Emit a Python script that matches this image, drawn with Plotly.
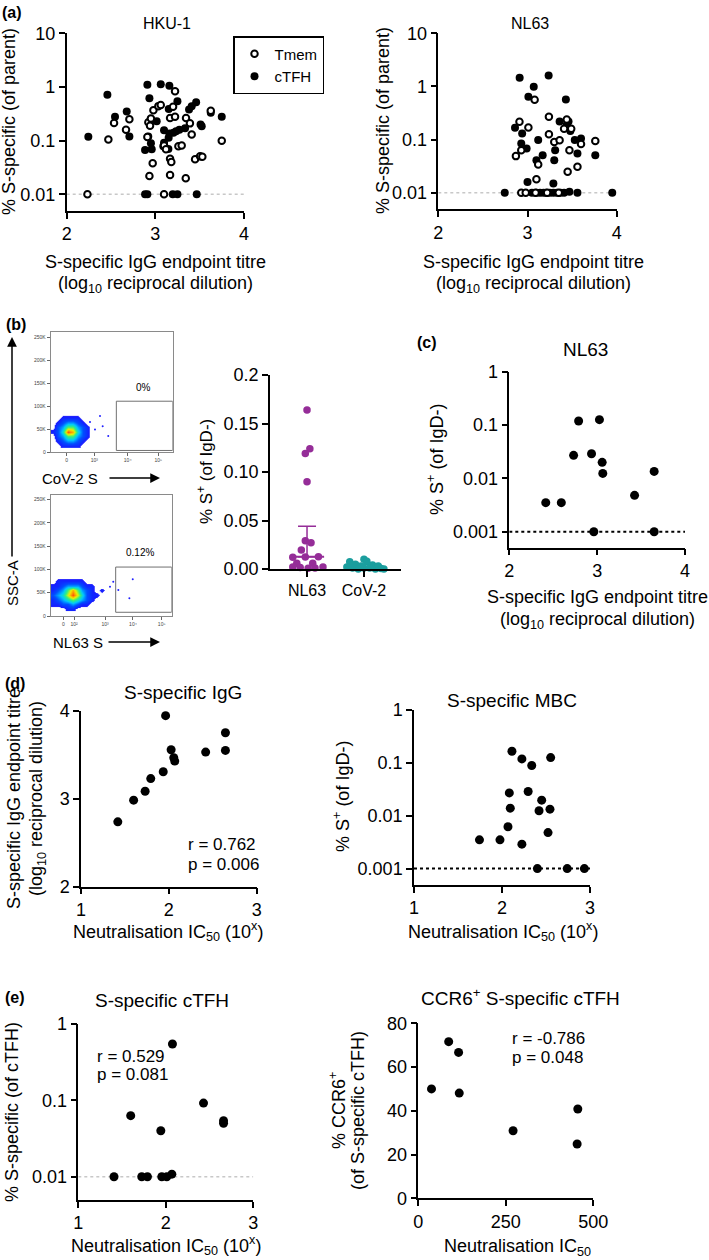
import plotly.graph_objects as go

W, H = 709, 1260
FONT = "Liberation Sans, Arial, sans-serif"
PURPLE = "#952D98"
TEAL = "#1B9E9E"

# ---------------- data ----------------
# (a) HKU-1
hku_cTFH_x = [2.244, 2.459, 2.545, 2.677, 2.707, 2.910, 2.933, 2.92, 2.884, 2.959, 2.948, 3.015, 3.061,
              3.158, 3.249, 3.41, 3.46, 3.151, 3.098, 3.158, 3.204, 3.234, 3.271, 3.335, 3.523, 3.098,
              3.147, 3.625, 3.749, 2.884, 2.910, 3.196, 3.249, 3.467, 2.95, 3.09, 3.15, 3.38, 3.51]
hku_cTFH_y = [0.118, 0.72, 0.28, 0.35, 0.12, 1.10, 0.62, 0.12, 0.067, 0.069, 0.22, 0.23, 1.13,
              1.05, 0.54, 0.44, 0.52, 0.39, 0.156, 0.136, 0.14, 0.15, 0.16, 0.17, 0.185, 0.091,
              0.070, 0.33, 0.28, 0.01, 0.01, 0.01, 0.01, 0.01, 0.09, 0.079, 0.113, 0.38, 0.2]
hku_Tmem_x = [2.234, 2.47, 2.534, 2.707, 2.669, 2.978, 3.034, 3.061, 2.921, 2.91, 2.94, 2.97, 2.933,
              3.166, 3.343, 3.166, 3.18, 3.098, 3.26, 3.297, 3.166, 3.222, 3.346, 3.39, 3.41, 3.448,
              3.505, 3.53, 3.625, 3.749, 3.098, 3.222, 3.2, 3.12, 2.95]
hku_Tmem_y = [0.01, 0.105, 0.214, 0.25, 0.16, 0.37, 0.44, 0.46, 0.22, 0.117, 0.19, 0.038, 0.022,
              0.023, 0.020, 0.046, 0.04, 0.081, 0.079, 0.081, 0.265, 0.28, 0.265, 0.21, 0.13, 0.045,
              0.051, 0.05, 0.36, 0.10, 0.01, 0.83, 0.43, 0.069, 0.26]

# (a) NL63
nl_cTFH_x = [2.912, 3.237, 3.07, 3.01, 3.43, 2.86, 2.94, 2.93, 2.99, 3.12, 3.36, 3.46, 3.44, 3.48,
             3.53, 3.60, 3.56, 3.17, 3.10, 3.30, 3.31, 3.76, 3.0, 3.29, 2.745, 3.95, 3.56, 3.05,
             3.10, 3.14, 3.18, 3.21, 3.25, 3.29, 3.33, 3.37, 3.41, 3.47]
nl_cTFH_y = [1.46, 1.6, 0.99, 0.64, 0.57, 0.167, 0.13, 0.085, 0.068, 0.098, 0.22, 0.22, 0.19, 0.145,
             0.098, 0.105, 0.055, 0.051, 0.041, 0.041, 0.063, 0.051, 0.016, 0.015, 0.01, 0.01, 0.01, 0.01,
             0.01, 0.01, 0.01, 0.01, 0.01, 0.01, 0.01, 0.01, 0.01, 0.0105]
nl_Tmem_x = [2.91, 3.01, 3.08, 2.87, 2.93, 3.24, 3.24, 3.30, 3.36, 3.41, 3.44, 3.47, 3.49, 3.60,
             3.76, 3.56, 3.45, 3.12, 3.10, 2.93, 2.98, 3.09, 3.22, 3.35]
nl_Tmem_y = [0.216, 0.17, 0.56, 0.049, 0.063, 0.27, 0.126, 0.09, 0.097, 0.16, 0.24, 0.063, 0.16, 0.083,
             0.094, 0.031, 0.025, 0.034, 0.018, 0.01, 0.01, 0.01, 0.01, 0.01]

# (b) flow density (estimated event density on a coarse grid)
flow_top_u = [2, 6, 10, 14, 18, 22, 26, 30, 34, 38, 42, 46]
flow_top_yk = [15000, 25000, 35000, 45000, 55000, 65000, 75000, 85000]
flow_top_z = [
    [0, 0, 1, 1, 1, 1, 0, 0, 0, 0, 0, 0],
    [0, 1, 2, 3, 3, 2, 1, 0, 0, 0, 0, 0],
    [0, 2, 3, 5, 5, 3, 2, 1, 0, 0, 0, 0],
    [1, 2, 4, 8, 7, 4, 2, 1, 0, 0, 0, 0],
    [0, 2, 3, 5, 5, 3, 2, 1, 0, 0, 0, 0],
    [0, 1, 2, 3, 3, 2, 1, 0, 0, 0, 0, 0],
    [0, 0, 1, 1, 1, 1, 0, 0, 0, 0, 0, 0],
    [0, 0, 0, 0, 0, 0, 0, 0, 0, 0, 0, 0],
]
flow_top_dots_u = [40.4, 42.6, 47.2, 32.2, 36.3]
flow_top_dots_y = [78600, 56800, 35600, 66000, 49600]

flow_bot_u = [2, 6, 10, 14, 18, 22, 26, 30, 34, 38, 42, 46, 50]
flow_bot_yk = [15000, 25000, 35000, 45000, 55000, 65000, 75000, 85000]
flow_bot_z = [
    [0, 0, 0, 1, 1, 0, 0, 0, 0, 0, 0, 0, 0],
    [1, 1, 2, 2, 3, 2, 1, 1, 0, 0, 0, 0, 0],
    [1, 2, 3, 4, 5, 4, 3, 2, 1, 0, 0, 0, 0],
    [2, 3, 4, 6, 8, 6, 4, 2, 1, 1, 0, 0, 0],
    [1, 2, 3, 5, 7, 5, 3, 2, 1, 0, 1, 0, 0],
    [1, 1, 2, 3, 3, 3, 2, 1, 1, 0, 0, 0, 0],
    [0, 1, 1, 1, 1, 1, 1, 0, 0, 0, 0, 0, 0],
    [0, 0, 0, 0, 0, 0, 0, 0, 0, 0, 0, 0, 0],
]
flow_bot_dots_u = [49.0, 67.8, 65.0, 55.9, 51.7]
flow_bot_dots_y = [62900, 78800, 38000, 55800, 73600]

gate_top_x = [53.8, 100]
gate_top_y = [4000, 111000]
gate_bot_x = [53.7, 100]
gate_bot_y = [8000, 105000]

# (b) strip plot
strip_categories = ["NL63", "CoV-2"]
strip_nl63_x = [0.0, 0.05, -0.03, 0.0, -0.03, 0.07, -0.1, -0.25, -0.03, 0.2, -0.18, 0.1, -0.25, -0.12, 0.02, 0.14, 0.28]
strip_nl63_y = [0.164, 0.124, 0.119, 0.090, 0.029, 0.027, 0.0196, 0.012, 0.0124, 0.0125, 0.0058, 0.006,
                0.002, 0.0015, 0.0007, 0.001, 0.002]
strip_cov_x = [0.75, 1.0, 1.05, 0.85, 1.15, 0.95, 1.25, 0.7, 1.1, 0.8, 1.3, 0.9, 1.2, 1.25, 1.0, 1.35]
strip_cov_y = [0.0075, 0.010, 0.008, 0.005, 0.004, 0.003, 0.002, 0.002, 0.001, 0.001, 0.0005, 0.0, 0.0,
               0.003, 0.001, 0.0]
strip_center = [0.0127, 0.002]
strip_upper = [0.044, 0.005]

# (c)
c_x = [2.415, 2.592, 2.732, 2.789, 3.026, 2.936, 3.057, 3.064, 3.649, 3.426, 2.962, 3.649]
c_y = [0.0035, 0.0035, 0.027, 0.119, 0.126, 0.029, 0.020, 0.0124, 0.0135, 0.0048, 0.001, 0.001]

# (d)
dl_x = [1.419, 1.599, 1.730, 1.794, 1.936, 1.963, 2.026, 2.056, 2.067, 2.419, 2.644, 2.644]
dl_y = [2.738, 2.985, 3.087, 3.231, 3.308, 3.947, 3.559, 3.468, 3.430, 3.532, 3.753, 3.551]
dr_x = [2.113, 2.226, 2.338, 2.553, 2.083, 2.297, 2.451, 2.094, 2.421, 2.545, 2.068, 1.744, 1.977,
        2.226, 2.523, 2.402, 2.741, 2.936]
dr_y = [0.166, 0.119, 0.089, 0.126, 0.027, 0.0287, 0.0197, 0.0139, 0.0124, 0.0133, 0.0062, 0.0035,
        0.0035, 0.0029, 0.0048, 0.001, 0.001, 0.001]

# (e)
el_x = [2.076, 1.599, 1.943, 2.431, 2.660, 2.660, 1.408, 1.725, 1.79, 1.954, 2.011, 2.069]
el_y = [0.547, 0.063, 0.040, 0.092, 0.054, 0.050, 0.01, 0.01, 0.01, 0.01, 0.01, 0.0108]
er_x = [37.7, 86.8, 115.1, 117, 270.8, 455.7, 453.8]
er_y = [50, 71.6, 66.7, 48.1, 30.9, 40.8, 24.8]

# ---------------- helpers ----------------
def dx(a, b):
    return [a / W, b / W]


def dy(top, bottom):
    return [1 - bottom / H, 1 - top / H]


def px(x):
    return x / W


def py(y):
    return 1 - y / H


fig = go.Figure()
layout = {}

TICK = 18
base = dict(showline=True, linecolor="black", linewidth=1.5, ticks="outside", ticklen=6,
            tickwidth=1.5, tickcolor="black", showgrid=False, zeroline=False, automargin=False,
            tickfont=dict(family=FONT, size=TICK, color="black"), fixedrange=True)


def axes(n, xd, yd, xcfg, ycfg):
    xa = dict(base)
    ya = dict(base)
    xa.update(domain=xd, anchor="y" if n == 1 else f"y{n}")
    ya.update(domain=yd, anchor="x" if n == 1 else f"x{n}")
    xa.update(xcfg)
    ya.update(ycfg)
    layout["xaxis" if n == 1 else f"xaxis{n}"] = xa
    layout["yaxis" if n == 1 else f"yaxis{n}"] = ya


def ref(n):
    return ("x", "y") if n == 1 else (f"x{n}", f"y{n}")


def dots(n, x, y, size=9, color="black", open_=False, name=None, legend=False, rank=None):
    xr, yr = ref(n)
    if open_:
        marker = dict(size=size - 2, color="white", line=dict(color=color, width=2))
    else:
        marker = dict(size=size, color=color, line=dict(width=0))
    kw = {}
    if rank is not None:
        kw["legendrank"] = rank
    fig.add_trace(go.Scatter(x=x, y=y, mode="markers", marker=marker, xaxis=xr, yaxis=yr,
                             cliponaxis=False, showlegend=legend, name=name, hoverinfo="skip", **kw))


def hline(n, xs, yv, color, width, dash="dot"):
    xr, yr = ref(n)
    fig.add_trace(go.Scatter(x=xs, y=[yv, yv], mode="lines", line=dict(color=color, width=width, dash=dash),
                             xaxis=xr, yaxis=yr, showlegend=False, hoverinfo="skip", cliponaxis=False))


annots = []


def text(x, y, s, size=18, angle=0, xanchor="center", bold=False, color="black"):
    if bold:
        s = f"<b>{s}</b>"
    annots.append(dict(x=px(x), y=py(y), xref="paper", yref="paper", text=s, showarrow=False,
                       textangle=angle, xanchor=xanchor, yanchor="middle", align="left",
                       font=dict(family=FONT, size=size, color=color)))


def arrow(x_tip, y_tip, ax, ay):
    annots.append(dict(x=px(x_tip), y=py(y_tip), xref="paper", yref="paper", text="", showarrow=True,
                       ax=ax, ay=ay, arrowhead=2, arrowsize=1.3, arrowwidth=1.5, arrowcolor="black"))


log_ticks_a = dict(type="log", tickvals=[0.01, 0.1, 1, 10], ticktext=["0.01", "0.1", "1", "10"])
log_ticks_3 = dict(type="log", tickvals=[0.001, 0.01, 0.1, 1], ticktext=["0.001", "0.01", "0.1", "1"])

AX = 18      # axis title size
TT = 19      # panel title size (c-e)
XT = 18      # neutralisation x titles

# ---------------- (a) ----------------
axes(1, dx(66.7, 244), dy(33.3, 211), dict(range=[2, 4], tickvals=[2, 3, 4]),
     dict(range=[-2.31, 1], **log_ticks_a))
hline(1, [2, 4], 0.01, "#c8c8c8", 1.5)
dots(1, hku_cTFH_x, hku_cTFH_y, size=8, name="cTFH", legend=True, rank=2)
dots(1, hku_Tmem_x, hku_Tmem_y, size=8.5, open_=True, name="Tmem", legend=True, rank=1)

axes(2, dx(438.3, 616.7), dy(33.3, 209.3), dict(range=[2, 4], tickvals=[2, 3, 4]),
     dict(range=[-2.31, 1], **log_ticks_a))
hline(2, [2, 4], 0.01, "#c8c8c8", 1.5)
dots(2, nl_cTFH_x, nl_cTFH_y, size=8)
dots(2, nl_Tmem_x, nl_Tmem_y, size=8.5, open_=True)

text(12, 13, "(a)", size=16, bold=True)
text(167, 23, "HKU-1", size=16)
text(530, 23, "NL63", size=16)
for cx in (155, 533):
    text(cx, 262, "S-specific IgG endpoint titre", size=AX)
    text(cx, 285, "(log<sub>10</sub> reciprocal dilution)", size=AX)
text(9, 122, "% S-specific (of parent)", size=AX, angle=-90)
text(383, 121, "% S-specific (of parent)", size=AX, angle=-90)

# ---------------- (b) flow ----------------
flow_axis = dict(showline=True, mirror=True, linecolor="#8a8a8a", linewidth=1, ticks="outside",
                 ticklen=3, tickwidth=1, tickcolor="#666", tickfont=dict(family=FONT, size=5, color="#444"))
ky = dict(tickvals=[0, 50000, 100000, 150000, 200000, 250000],
          ticktext=["0", "50K", "100K", "150K", "200K", "250K"])
axes(3, dx(50.7, 172.7), dy(331.7, 452.3),
     dict(range=[0, 100], tickvals=[13.1, 35.7, 63.1, 88.2], ticktext=["0", "10³", "10⁴", "10⁵"], **flow_axis),
     dict(range=[0, 262000], **ky, **flow_axis))
axes(4, dx(50.7, 171.7), dy(495, 616),
     dict(range=[0, 100], tickvals=[10.4, 19.3, 44.9, 68, 91.7], ticktext=["0", "10²", "10³", "10⁴", "10⁵"],
          **flow_axis),
     dict(range=[0, 259600], **ky, **flow_axis))

jet = [[0, "rgba(255,255,255,0)"], [0.06, "rgba(255,255,255,0)"], [0.07, "#1818ff"], [0.24, "#0050ff"],
       [0.4, "#00c8ff"], [0.56, "#30f080"], [0.72, "#f0f000"], [0.86, "#ff8c00"], [1, "#ff1010"]]
for n, u, yk, z, du, dyv in ((3, flow_top_u, flow_top_yk, flow_top_z, flow_top_dots_u, flow_top_dots_y),
                             (4, flow_bot_u, flow_bot_yk, flow_bot_z, flow_bot_dots_u, flow_bot_dots_y)):
    xr, yr = ref(n)
    fig.add_trace(go.Heatmap(x=u, y=yk, z=z, colorscale=jet, zmin=0, zmax=8.6, zsmooth="best",
                             showscale=False, xaxis=xr, yaxis=yr, hoverinfo="skip"))
    fig.add_trace(go.Scatter(x=du, y=dyv, mode="markers", marker=dict(size=2, color="#2020ff"),
                             xaxis=xr, yaxis=yr, showlegend=False, hoverinfo="skip"))

shapes = []
for n, gx, gy in ((3, gate_top_x, gate_top_y), (4, gate_bot_x, gate_bot_y)):
    xr, yr = ref(n)
    shapes.append(dict(type="rect", xref=xr, yref=yr, x0=gx[0], x1=gx[1], y0=gy[0], y1=gy[1],
                       line=dict(color="#707070", width=1)))

text(16, 325, "(b)", size=16, bold=True)
text(143, 387, "0%", size=10)
text(140, 552, "0.12%", size=10)
text(70, 478, "CoV-2 S", size=15)
arrow(160, 478, -52, 0)
text(78, 642, "NL63 S", size=15)
arrow(160, 642, -53, 0)
arrow(12, 337, 0, 221)
text(12, 583, "SSC-A", size=15, angle=-90)

# ---------------- (b) strip ----------------
axes(5, dx(270, 401), dy(375, 569),
     dict(range=[-0.65, 1.65], tickvals=[0, 1], ticktext=strip_categories, tickfont=dict(family=FONT, size=16)),
     dict(range=[0, 0.2], tickvals=[0, 0.05, 0.1, 0.15, 0.2], ticktext=["0.00", "0.05", "0.10", "0.15", "0.2"]))
for i, col in enumerate((PURPLE, TEAL)):
    fig.add_trace(go.Scatter(x=[i], y=[strip_center[i]], mode="markers", marker=dict(size=1, color="rgba(0,0,0,0)"),
                             error_y=dict(type="data", symmetric=False, array=[strip_upper[i] - strip_center[i]],
                                          arrayminus=[0], width=9, thickness=1.5, color=col),
                             xaxis="x5", yaxis="y5", showlegend=False, hoverinfo="skip", cliponaxis=False))
dots(5, strip_nl63_x, strip_nl63_y, size=7.5, color=PURPLE)
dots(5, strip_cov_x, strip_cov_y, size=7.5, color=TEAL)
for i, col in enumerate((PURPLE, TEAL)):
    hline(5, [i - 0.3, i + 0.3], strip_center[i], col, 2, dash="solid")
text(205, 472, "% S<sup>+</sup> (of IgD-)", size=17, angle=-90)

# ---------------- (c) ----------------
axes(6, dx(509.3, 685), dy(371.7, 547.7), dict(range=[2, 4], tickvals=[2, 3, 4]),
     dict(range=[-3.3, 0], **log_ticks_3))
hline(6, [2, 4], 0.001, "black", 2)
dots(6, c_x, c_y, size=9)
text(427, 343, "(c)", size=16, bold=True)
text(585, 349, "NL63", size=TT)
text(597, 597, "S-specific IgG endpoint titre", size=AX)
text(597, 620, "(log<sub>10</sub> reciprocal dilution)", size=AX)
text(435, 460, "% S<sup>+</sup> (of IgD-)", size=AX, angle=-90)

# ---------------- (d) ----------------
axes(7, dx(81, 256.7), dy(711, 886.7), dict(range=[1, 3], tickvals=[1, 2, 3]),
     dict(range=[2, 4], tickvals=[2, 3, 4]))
dots(7, dl_x, dl_y, size=9)
axes(8, dx(414, 590), dy(710, 885), dict(range=[1, 3], tickvals=[1, 2, 3]),
     dict(range=[-3.31, 0], **log_ticks_3))
hline(8, [1, 3], 0.001, "black", 2)
dots(8, dr_x, dr_y, size=9)

text(15, 683, "(d)", size=16, bold=True)
text(183, 692, "S-specific IgG", size=TT)
text(512, 700, "S-specific MBC", size=TT)
text(186, 845, "r = 0.762", size=17, xanchor="left")
text(186, 864, "p = 0.006", size=17, xanchor="left")
text(14, 799, "S-specific IgG endpoint titre", size=AX, angle=-90)
text(37, 799, "(log<sub>10</sub> reciprocal dilution)", size=AX, angle=-90)
text(341, 797, "% S<sup>+</sup> (of IgD-)", size=AX, angle=-90)
text(168, 931, "Neutralisation IC<sub>50</sub> (10<sup>x</sup>)", size=XT)
text(503, 931, "Neutralisation IC<sub>50</sub> (10<sup>x</sup>)", size=XT)

# ---------------- (e) ----------------
axes(9, dx(78.3, 253.3), dy(1024, 1200), dict(range=[1, 3], tickvals=[1, 2, 3]),
     dict(range=[-2.305, 0], type="log", tickvals=[0.01, 0.1, 1], ticktext=["0.01", "0.1", "1"]))
hline(9, [1, 3], 0.01, "#c8c8c8", 1.5)
dots(9, el_x, el_y, size=9)
axes(10, dx(418.3, 593.3), dy(1023.3, 1198.3), dict(range=[0, 500], tickvals=[0, 250, 500]),
     dict(range=[0, 80], tickvals=[0, 20, 40, 60, 80]))
dots(10, er_x, er_y, size=9)

text(15, 997, "(e)", size=16, bold=True)
text(162, 1001, "S-specific cTFH", size=TT)
text(520, 997, "CCR6<sup>+</sup> S-specific cTFH", size=TT)
text(95, 1056, "r = 0.529", size=17, xanchor="left")
text(95, 1074, "p = 0.081", size=17, xanchor="left")
text(510, 1038, "r = -0.786", size=17, xanchor="left")
text(510, 1057, "p = 0.048", size=17, xanchor="left")
text(12, 1112, "% S-specific (of cTFH)", size=AX, angle=-90)
text(337, 1111, "% CCR6<sup>+</sup>", size=AX, angle=-90)
text(358, 1111, "(of S-specific cTFH)", size=AX, angle=-90)
text(166, 1245, "Neutralisation IC<sub>50</sub> (10<sup>x</sup>)", size=XT)
text(517, 1247, "Neutralisation IC<sub>50</sub>", size=XT)

fig.update_layout(
    width=W, height=H, margin=dict(l=0, r=0, t=0, b=0, autoexpand=False),
    paper_bgcolor="white", plot_bgcolor="rgba(0,0,0,0)",
    font=dict(family=FONT, size=17, color="black"),
    showlegend=True,
    legend=dict(x=px(233), y=py(36), xanchor="left", yanchor="top", bordercolor="black", borderwidth=1.5,
                bgcolor="white", font=dict(family=FONT, size=15), itemwidth=30, tracegroupgap=0),
    annotations=annots, shapes=shapes, **layout,
)
fig.write_html("out.html", config={"displayModeBar": False},
               post_script="document.body.style.margin='0';document.body.style.padding='0';")
